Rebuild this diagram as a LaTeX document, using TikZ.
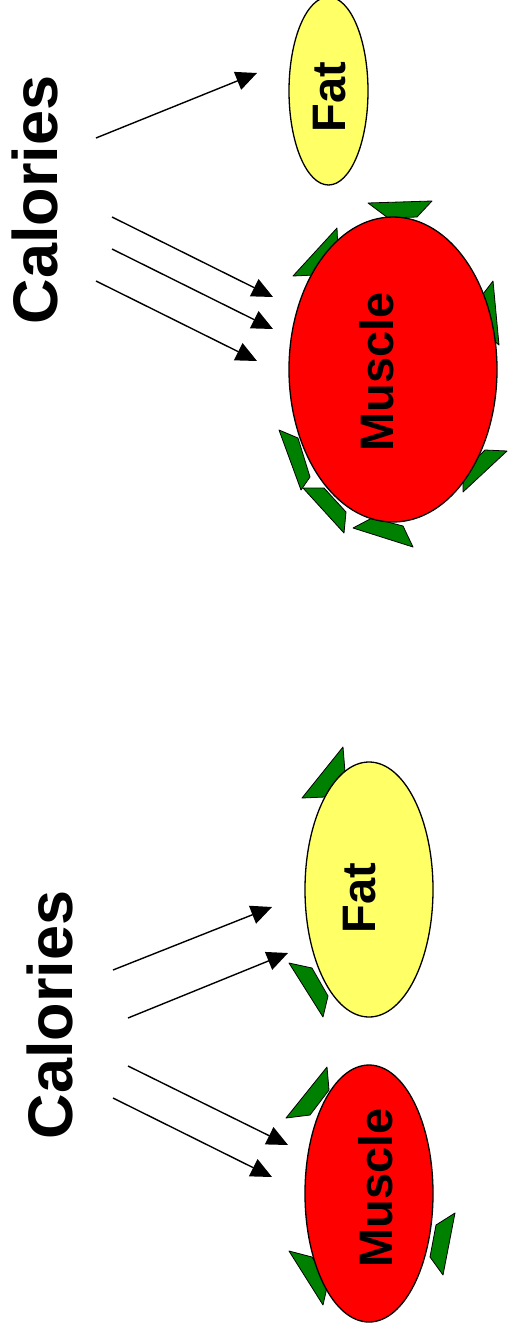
\documentclass[tikz,border=0pt]{standalone}
\usepackage{fontspec}
\setmainfont{Liberation Sans}
\usetikzlibrary{shapes.geometric,arrows.meta}
\definecolor{fatyellow}{RGB}{255,255,102}
\definecolor{musclered}{RGB}{255,0,0}
\definecolor{leafgreen}{RGB}{0,128,0}
\begin{document}
\begin{tikzpicture}[x=1pt, y=-1pt,
  cell/.style={ellipse, draw=black, line width=1.3pt, inner sep=0pt},
  fatcell/.style={cell, fill=fatyellow},
  musclecell/.style={cell, fill=musclered},
  word/.style={rotate=90, inner sep=0pt, font=\bfseries\fontsize{47}{50}\selectfont},
  caltitle/.style={rotate=90, inner sep=0pt, font=\bfseries\fontsize{63}{70}\selectfont},
  flow/.style={-{Triangle[length=21pt,width=19pt]}, line width=1.4pt},
  fin/.style={fill=leafgreen, draw=black, line width=0.8pt, line join=round}]
  \useasboundingbox (0,0) rectangle (508,1335);

  % Upper picture: fins
  \filldraw[fin] (368,203) -- (432,201) -- (417,217) -- (388,218) -- cycle;
  \filldraw[fin] (337,228) -- (338,252) -- (315,275) -- (293,276) -- cycle;
  \filldraw[fin] (493,281) -- (499,345) -- (483,332) -- (480,298) -- cycle;
  \filldraw[fin] (463,472) -- (485,450) -- (507,451) -- (463,492) -- cycle;
  \filldraw[fin] (279,430) -- (298,438) -- (310,477) -- (301,490) -- cycle;
  \filldraw[fin] (303,488) -- (324,488) -- (346,512) -- (344,533) -- cycle;
  \filldraw[fin] (353,528) -- (372,518) -- (403,526) -- (413,547) -- cycle;

  % Upper picture: cells
  \node[fatcell, minimum width=79pt, minimum height=188pt] (fatA) at (328.5,91) {};
  \node[musclecell, minimum width=208pt, minimum height=305pt] (muscleA) at (393,369.5) {};
  \node[word] (fatAtxt) at (330,97) {Fat};
  \node[word] (muscleAtxt) at (377,372) {Muscle};
  \node[caltitle] (calA) at (35,200) {Calories};

  % Upper picture: arrows
  \coordinate (sA1) at (96,138);  \coordinate (tA1) at (257,73);
  \coordinate (sA2) at (112,217); \coordinate (tA2) at (273,297);
  \coordinate (sA3) at (112,249); \coordinate (tA3) at (273,329);
  \coordinate (sA4) at (96,281);  \coordinate (tA4) at (257,361);
  \foreach \i in {1,...,4}
    \draw[flow] (sA\i) -- (tA\i);

  % Lower picture: fins
  \filldraw[fin] (343,747) -- (345,772) -- (325,797) -- (302,798) -- cycle;
  \filldraw[fin] (289,963) -- (312,968) -- (328,996) -- (323,1017) -- cycle;
  \filldraw[fin] (327,1067) -- (329,1090) -- (310,1115) -- (286,1118) -- cycle;
  \filldraw[fin] (289,1251) -- (312,1257) -- (328,1283) -- (323,1305) -- cycle;
  \filldraw[fin] (455,1213) -- (443,1275) -- (430,1257) -- (436,1225) -- cycle;

  % Lower picture: cells
  \node[fatcell, minimum width=128pt, minimum height=255pt] (fatB) at (369,889.5) {};
  \node[musclecell, minimum width=128pt, minimum height=257pt] (muscleB) at (369,1193.5) {};
  \node[word] (fatBtxt) at (360,898) {Fat};
  \node[word] (muscleBtxt) at (376,1188) {Muscle};
  \node[caltitle] (calB) at (50,1015) {Calories};

  % Lower picture: arrows
  \coordinate (sB1) at (113,970);  \coordinate (tB1) at (272,907);
  \coordinate (sB2) at (128,1018); \coordinate (tB2) at (288,953);
  \coordinate (sB3) at (128,1066); \coordinate (tB3) at (288,1145);
  \coordinate (sB4) at (113,1098); \coordinate (tB4) at (272,1177);
  \foreach \i in {1,...,4}
    \draw[flow] (sB\i) -- (tB\i);
\end{tikzpicture}
\end{document}
